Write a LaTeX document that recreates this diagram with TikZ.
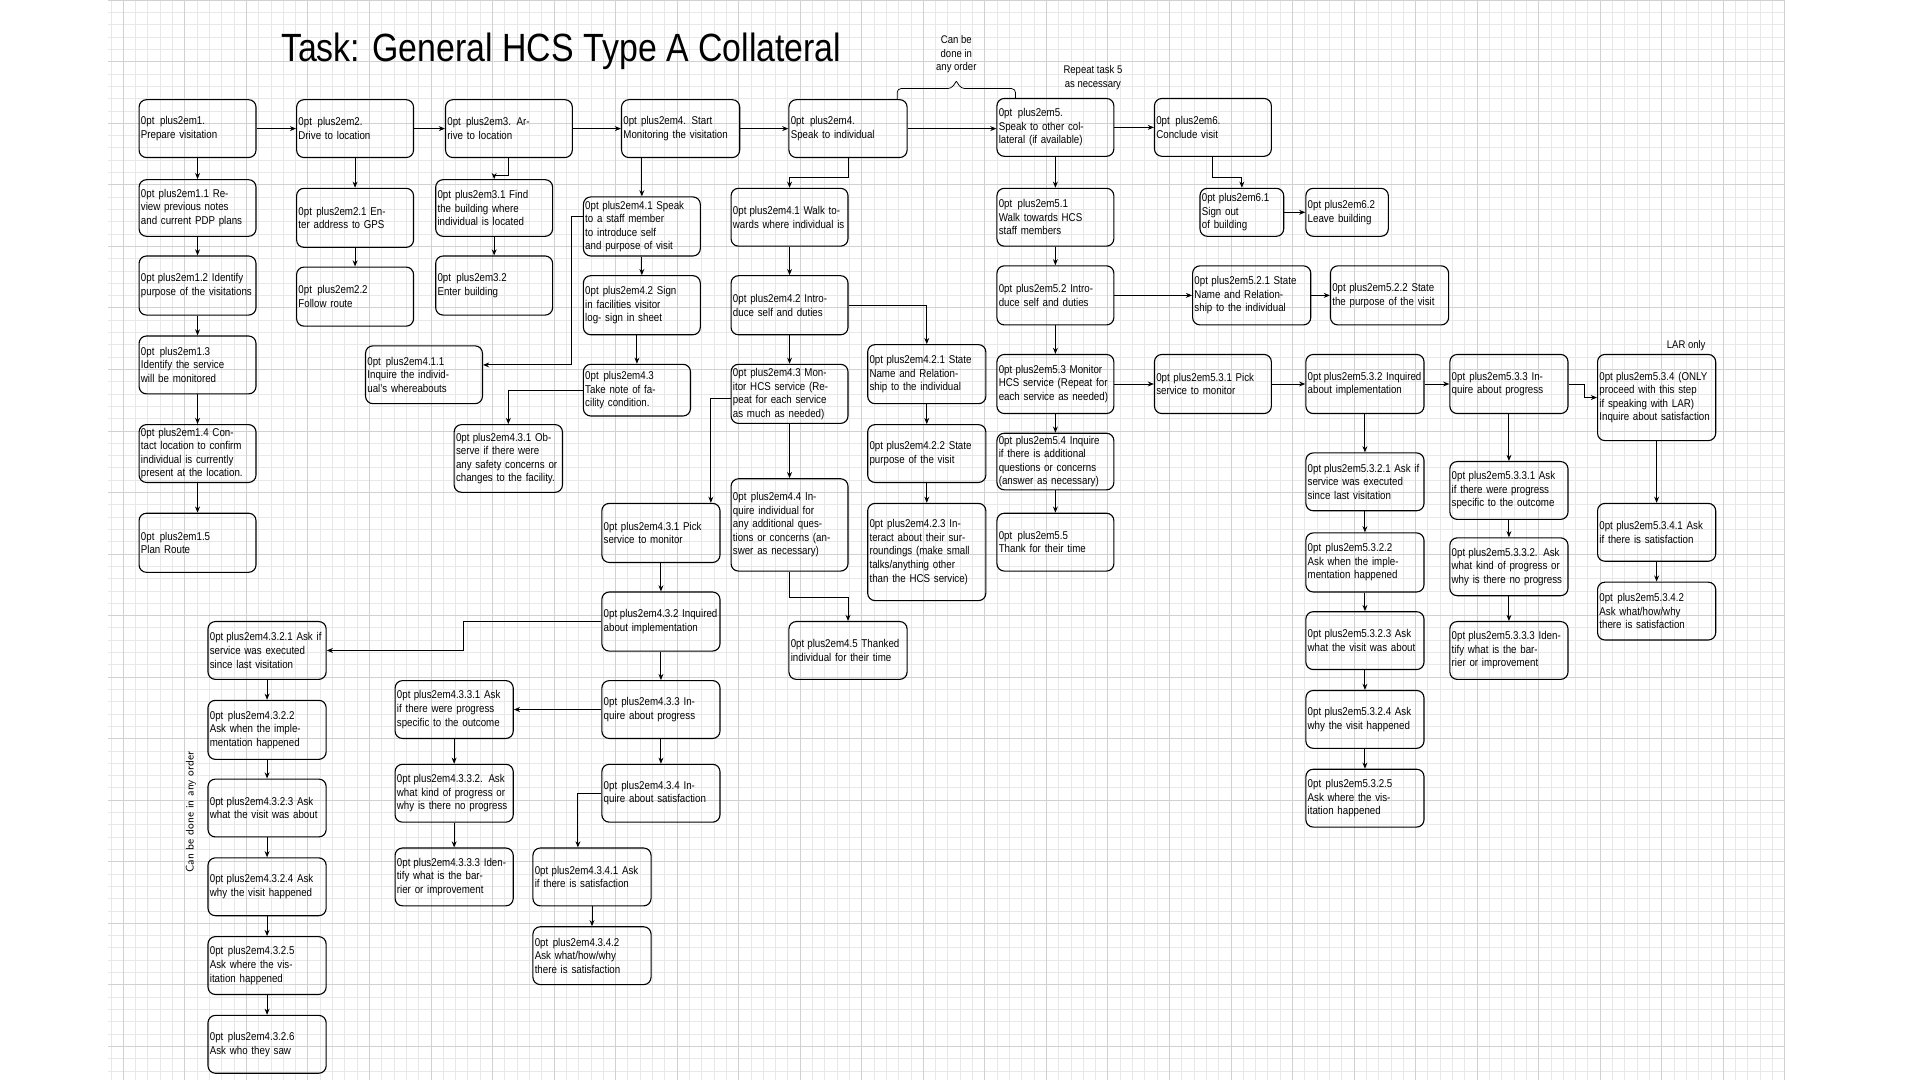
\documentclass[tikz,border=0pt]{standalone}
\usepackage{fontspec}
\setmainfont{Liberation Sans}[FakeStretch=0.86]
\usetikzlibrary{arrows.meta,calc}
\tikzset{
  box/.style={draw, line width=0.9pt, rounded corners=6pt, align=center, inner sep=1pt,
     font=\fontsize{9.2}{11}\selectfont\hyphenpenalty=10000\exhyphenpenalty=10000},
  arr/.style={-{Stealth[length=5pt,width=4pt]}, line width=0.8pt},
  lbl/.style={font=\fontsize{9}{11}\selectfont, align=center}
}
\newcommand{\bx}[6]{\node[box, minimum width={(#4)-(#2)}, minimum height={(#5)-(#3)}, text width={(#4)-(#2)-3}] (#1) at ({((#2)+(#4))/2},{-((#3)+(#5))/2}) {#6};}
\begin{document}
\begin{tikzpicture}[x=1pt,y=1pt]
\useasboundingbox (0,0) rectangle (1560,-877.5);
\fill[white] (0,0) rectangle (1560,-877.5);
\draw[black!9, step=10pt] (88,-880) grid (1450,0);
\draw[black!18, step=50pt] (88,-880) grid (1450,0);
\node[font=\fontsize{32}{34}\selectfont, anchor=center] (title) at (456,-42) {Task: General HCS Type A Collateral};
% row 1
\bx{n1}{113}{81}{208}{128}{1. Prepare visitation}
\bx{n2}{241}{81}{336}{128}{2. Drive to location}
\bx{n3}{362}{81}{465}{128}{3. Arrive to location}
\bx{n4s}{505}{81}{601}{128}{4. Start Monitoring the visitation}
\bx{n4}{641}{81}{737}{128}{4. Speak to individual}
\bx{n5}{810}{80}{905}{127}{5. Speak to other collateral (if available)}
\bx{n6}{938}{80}{1033}{127}{6. Conclude visit}
% column 1
\bx{c11}{113}{146}{208}{192}{1.1 Review previous notes and current PDP plans}
\bx{c12}{113}{208}{208}{256}{1.2 Identify purpose of the visitations}
\bx{c13}{113}{273}{208}{320}{1.3 Identify the service will be monitored}
\bx{c14}{113}{345}{208}{392}{1.4 Contact location to confirm individual is currently present at the location.}
\bx{c15}{113}{417}{208}{465}{1.5 Plan Route}
% column 2,3
\bx{c21}{241}{153}{336}{201}{2.1 Enter address to GPS}
\bx{c22}{241}{217}{336}{265}{2.2 Follow route}
\bx{c31}{354}{146}{449}{192}{3.1 Find the building where individual is located}
\bx{c32}{354}{208}{449}{256}{3.2 Enter building}
% 4 start monitoring
\bx{s41}{474}{160}{569}{208}{4.1 Speak to a staff member to introduce self and purpose of visit}
\bx{s42}{474}{224}{569}{272}{4.2 Sign in facilities visitor log- sign in sheet}
\bx{s43}{474}{296}{561}{338}{4.3 Take note of facility condition.}
\bx{s411}{297}{281}{392}{328}{4.1.1 Inquire the individual's whereabouts}
\bx{s431}{369}{345}{457}{400}{4.3.1 Observe if there were any safety concerns or changes to the facility.}
% 4 speak to individual
\bx{w41}{594}{153}{689}{200}{4.1 Walk towards where individual is}
\bx{w42}{594}{224}{689}{272}{4.2 Introduce self and duties}
\bx{w43}{594}{296}{689}{344}{4.3 Monitor HCS service (Repeat for each service as much as needed)}
\bx{w44}{594}{389}{689}{464}{4.4 Inquire individual for any additional questions or concerns (answer as necessary)}
\bx{w45}{641}{505}{737}{552}{4.5 Thanked individual for their time}
\bx{w421}{705}{280}{801}{328}{4.2.1 State Name and Relationship to the individual}
\bx{w422}{705}{345}{801}{392}{4.2.2 State purpose of the visit}
\bx{w423}{705}{409}{801}{488}{4.2.3 Interact about their surroundings (make small talks/anything other than the HCS service)}
\bx{p431}{489}{409}{585}{457}{4.3.1 Pick service to monitor}
\bx{p432}{489}{481}{585}{529}{4.3.2 Inquired about implementation}
\bx{p433}{489}{553}{585}{600}{4.3.3 Inquire about progress}
\bx{p434}{489}{621}{585}{668}{4.3.4 Inquire about satisfaction}
\bx{q1}{169}{505}{265}{552}{4.3.2.1 Ask if service was executed since last visitation}
\bx{q2}{169}{569}{265}{617}{4.3.2.2 Ask when the implementation happened}
\bx{q3}{169}{633}{265}{680}{4.3.2.3 Ask what the visit was about}
\bx{q4}{169}{697}{265}{744}{4.3.2.4 Ask why the visit happened}
\bx{q5}{169}{761}{265}{808}{4.3.2.5 Ask where the visitation happened}
\bx{q6}{169}{825}{265}{872}{4.3.2.6 Ask who they saw}
\bx{r1}{321}{553}{417}{600}{4.3.3.1 Ask if there were progress specific to the outcome}
\bx{r2}{321}{621}{417}{668}{4.3.3.2. Ask what kind of progress or why is there no progress}
\bx{r3}{321}{689}{417}{736}{4.3.3.3 Identify what is the barrier or improvement}
\bx{t1}{433}{689}{529}{736}{4.3.4.1 Ask if there is satisfaction}
\bx{t2}{433}{753}{529}{800}{4.3.4.2 Ask what/how/why there is satisfaction}
% 5
\bx{f51}{810}{153}{905}{200}{5.1 Walk towards HCS staff members}
\bx{f52}{810}{216}{905}{264}{5.2 Introduce self and duties}
\bx{f53}{810}{288}{905}{336}{5.3 Monitor HCS service (Repeat for each service as needed)}
\bx{f54}{810}{352}{905}{398}{5.4 Inquire if there is additional questions or concerns (answer as necessary)}
\bx{f55}{810}{417}{905}{464}{5.5 Thank for their time}
\bx{f521}{969}{216}{1065}{264}{5.2.1 State Name and Relationship to the individual}
\bx{f522}{1081}{216}{1177}{264}{5.2.2 State the purpose of the visit}
\bx{f531}{938}{288}{1033}{336}{5.3.1 Pick service to monitor}
\bx{f532}{1061}{288}{1157}{336}{5.3.2 Inquired about implementation}
\bx{f533}{1178}{288}{1274}{336}{5.3.3 Inquire about progress}
\bx{f534}{1298}{288}{1394}{358}{5.3.4 (ONLY proceed with this step if speaking with LAR) Inquire about satisfaction}
\bx{g1}{1061}{368}{1157}{415}{5.3.2.1 Ask if service was executed since last visitation}
\bx{g2}{1061}{433}{1157}{481}{5.3.2.2 Ask when the implementation happened}
\bx{g3}{1061}{497}{1157}{544}{5.3.2.3 Ask what the visit was about}
\bx{g4}{1061}{561}{1157}{608}{5.3.2.4 Ask why the visit happened}
\bx{g5}{1061}{625}{1157}{672}{5.3.2.5 Ask where the visitation happened}
\bx{h1}{1178}{375}{1274}{422}{5.3.3.1 Ask if there were progress specific to the outcome}
\bx{h2}{1178}{437}{1274}{484}{5.3.3.2. Ask what kind of progress or why is there no progress}
\bx{h3}{1178}{505}{1274}{552}{5.3.3.3 Identify what is the barrier or improvement}
\bx{k1}{1298}{409}{1394}{456}{5.3.4.1 Ask if there is satisfaction}
\bx{k2}{1298}{473}{1394}{520}{5.3.4.2 Ask what/how/why there is satisfaction}
\bx{s61}{975}{153}{1043}{192}{6.1 Sign out of building}
\bx{s62}{1061}{153}{1128}{192}{6.2 Leave building}
% labels
\node[lbl] (lany) at (777,-44) {Can be\\done in\\any order};
\node[lbl] (lrep) at (888,-63) {Repeat task 5\\as necessary};
\node[lbl] (llar) at (1370,-281) {LAR only};
\node[lbl, rotate=90, font=\fontsize{9}{10}\sffamily] (lord) at (155,-660) {Can be done in any order};
\coordinate (bl) at (729,-81);
\coordinate (br) at (825,-80);
\coordinate (bt) at (777,-66);
\draw[line width=0.6pt, rounded corners=3pt] (bl) -- (729,-72) -- (773,-72) -- (bt);
\draw[line width=0.6pt, rounded corners=3pt] (br) -- (825,-72) -- (781,-72) -- (bt);
% connectors
\foreach \a/\b in {n1/n2,n2/n3,n3/n4s,n4s/n4,n4/n5,n5/n6,s61/s62,f52/f521,f521/f522,f53/f531,f531/f532,f532/f533}
  \draw[arr] (\a.east) -- (\b.west |- \a.east);
\draw[arr] (p433.west) -- (r1.east |- p433.west);
\foreach \a/\b in {n1/c11,c11/c12,c12/c13,c13/c14,c14/c15,n2/c21,c21/c22,c31/c32,n4s/s41,s41/s42,s42/s43,
  w41/w42,w42/w43,w43/w44,w421/w422,w422/w423,p431/p432,p432/p433,p433/p434,
  q1/q2,q2/q3,q3/q4,q4/q5,q5/q6,r1/r2,r2/r3,t1/t2,
  n5/f51,f51/f52,f52/f53,f53/f54,f54/f55,f532/g1,g1/g2,g2/g3,g3/g4,g4/g5,f533/h1,h1/h2,h2/h3,f534/k1,k1/k2}
  \draw[arr] (\b.north |- \a.south) -- (\b.north);
\draw[arr] (n3.south) -- ++(0,-14) -| (c31.north);
\draw[arr] ([yshift=8pt]s41.west) -- ++(-9,0) |- ([yshift=8pt]s411.east);
\draw[arr] (s43.west) -| (s431.north);
\draw[arr] (n4.south) -- ++(0,-16) -| (w41.north);
\draw[arr] (w42.east) -| (w421.north);
\draw[arr] ([yshift=-4pt]w43.west) -- ++(-16,0) coordinate (tw) -- (tw |- p431.north);
\draw[arr] (w44.south) -- ++(0,-21) -| (w45.north);
\draw[arr] (p432.west) -- ++(-112,0) |- (q1.east);
\draw[arr] (p434.west) -- ++(-19,0) coordinate (tp) -- (tp |- t1.north);
\draw[arr] (f533.east) -- ++(13,0) |- (f534.west);
\draw[arr] (n6.south) -- ++(0,-17) -| (s61.north);
\end{tikzpicture}
\end{document}
